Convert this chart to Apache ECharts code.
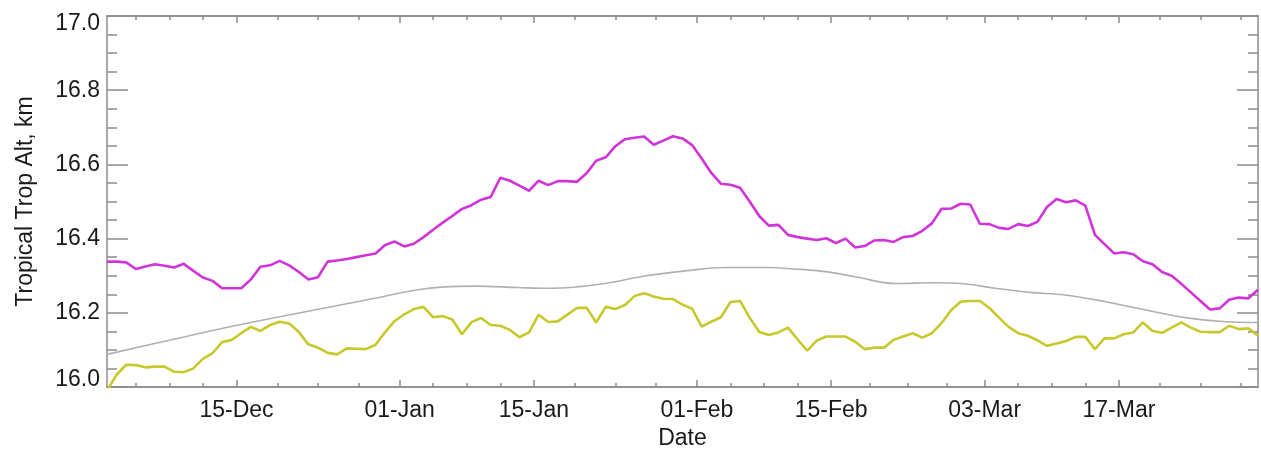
<!DOCTYPE html>
<html>
<head>
<meta charset="utf-8">
<script src="https://cdn.jsdelivr.net/npm/echarts@6/dist/echarts.min.js"></script>
<style>
  html, body { margin: 0; padding: 0; background: #ffffff; }
  #chart { width: 1261px; height: 450px; }
</style>
</head>
<body>
<div id="chart"></div>
<script>
// Day numbers count from 01-Dec 00:00; each daily value sits at noon of its day.
const firstDay = 0.5;
const lastDay = 120.5;

// Labelled date ticks (day numbers) and their text
const tickDays = [14, 31, 45, 62, 76, 92, 106];
const tickLabels = ['15-Dec', '01-Jan', '15-Jan', '01-Feb', '15-Feb', '03-Mar', '17-Mar'];
// Neighbouring tick dates just outside the range, used to place the minor ticks
const tickDaysBefore = 0;   // 01-Dec
const tickDaysAfter = 123;  // 03-Apr

// Daily tropical tropopause altitude, km
const magentaAlt = [
  16.338, 16.338, 16.336, 16.318, 16.325, 16.331, 16.327, 16.322, 16.332, 16.313,
  16.295, 16.286, 16.266, 16.266, 16.266, 16.290, 16.324, 16.328, 16.340, 16.328,
  16.310, 16.290, 16.296, 16.338, 16.341, 16.345, 16.350, 16.355, 16.360, 16.383,
  16.392, 16.379, 16.386, 16.404, 16.424, 16.443, 16.461, 16.480, 16.490, 16.505,
  16.512, 16.564, 16.556, 16.543, 16.529, 16.556, 16.544, 16.555, 16.555, 16.553,
  16.576, 16.610, 16.619, 16.649, 16.668, 16.672, 16.675, 16.653, 16.664, 16.676,
  16.670, 16.652, 16.616, 16.577, 16.548, 16.545, 16.537, 16.500, 16.461, 16.435,
  16.437, 16.410, 16.404, 16.400, 16.396, 16.401, 16.388, 16.400, 16.376, 16.380,
  16.395, 16.396, 16.391, 16.404, 16.407, 16.421, 16.441, 16.480, 16.481, 16.494,
  16.492, 16.440, 16.439, 16.429, 16.426, 16.439, 16.434, 16.445, 16.485, 16.507,
  16.498, 16.503, 16.489, 16.410, 16.385, 16.360, 16.363, 16.358, 16.339, 16.331,
  16.310, 16.300, 16.278, 16.255, 16.232, 16.209, 16.212, 16.235, 16.241, 16.239,
  16.262
];

const yellowAlt = [
  15.990, 16.033, 16.060, 16.059, 16.053, 16.055, 16.055, 16.041, 16.040, 16.050,
  16.076, 16.091, 16.121, 16.127, 16.145, 16.162, 16.151, 16.167, 16.176, 16.171,
  16.148, 16.115, 16.106, 16.092, 16.088, 16.104, 16.103, 16.102, 16.114, 16.148,
  16.178, 16.196, 16.210, 16.216, 16.188, 16.191, 16.182, 16.142, 16.175, 16.186,
  16.167, 16.165, 16.154, 16.134, 16.147, 16.195, 16.175, 16.177, 16.195, 16.213,
  16.214, 16.174, 16.216, 16.210, 16.221, 16.245, 16.253, 16.244, 16.238, 16.237,
  16.222, 16.211, 16.163, 16.176, 16.188, 16.229, 16.232, 16.187, 16.148, 16.140,
  16.147, 16.160, 16.128, 16.098, 16.125, 16.136, 16.136, 16.136, 16.122, 16.102,
  16.106, 16.106, 16.127, 16.136, 16.145, 16.133, 16.145, 16.172, 16.207, 16.230,
  16.232, 16.232, 16.213, 16.187, 16.162, 16.145, 16.138, 16.126, 16.111, 16.117,
  16.124, 16.135, 16.135, 16.102, 16.131, 16.131, 16.142, 16.147, 16.174, 16.151,
  16.146, 16.160, 16.174, 16.160, 16.149, 16.148, 16.148, 16.165, 16.156, 16.158,
  16.138
];

// Smooth reference curve: day numbers and altitude, km
const grayDays = [
  0.5, 7, 14.2, 24.8, 28.4, 32.6, 35.7, 38.9, 43.4, 46.5,
  48.8, 52.4, 56.6, 60.8, 64.9, 69.1, 72.8, 75.4, 78.5, 82.7,
  86.8, 89.6, 93.1, 96.7, 100.4, 104.6, 108.7, 112.9, 117.1, 120.5
];
const grayAlt = [
  16.088, 16.126, 16.167, 16.221, 16.239, 16.261, 16.270, 16.272, 16.268, 16.266,
  16.268, 16.279, 16.299, 16.313, 16.322, 16.322, 16.317, 16.311, 16.297, 16.279,
  16.281, 16.279, 16.266, 16.255, 16.248, 16.230, 16.208, 16.187, 16.176, 16.174
];

// Minor date ticks: each interval between tick dates split into four
const allTickDays = [tickDaysBefore].concat(tickDays, [tickDaysAfter]);
const minorTickDays = [];
for (let i = 0; i + 1 < allTickDays.length; i++) {
  const a = allTickDays[i], b = allTickDays[i + 1];
  for (let k = 1; k < 4; k++) {
    const d = a + (b - a) * k / 4;
    if (d > firstDay && d < lastDay) minorTickDays.push(d);
  }
}

const dailySeries = (vals) => vals.map((v, i) => [firstDay + i, v]);
const graySeries = grayDays.map((d, i) => [d, grayAlt[i]]);

const FONT = "'Liberation Sans', Arial, Helvetica, sans-serif";
const AXIS_COLOR = '#8c8c8c';
const TEXT_COLOR = '#1a1a1a';
const labelText = { color: TEXT_COLOR, fontFamily: FONT, fontSize: 23 };

function dateAxis(position, tickValues, tickLen, withLabels) {
  return {
    type: 'value',
    position: position,
    min: firstDay,
    max: lastDay,
    axisLine: { show: true, onZero: false, lineStyle: { color: AXIS_COLOR, width: 1.5 } },
    axisTick: {
      show: true, inside: true, length: tickLen, customValues: tickValues,
      lineStyle: { color: AXIS_COLOR, width: 1.5 }
    },
    axisLabel: withLabels ? Object.assign({
      show: true, customValues: tickDays, margin: 12,
      formatter: (v) => tickLabels[tickDays.indexOf(v)]
    }, labelText) : { show: false },
    name: withLabels ? 'Date' : '',
    nameLocation: 'middle',
    nameGap: 39,
    nameTextStyle: labelText,
    splitLine: { show: false },
    minorSplitLine: { show: false }
  };
}

// End labels of the altitude axis sit inside the frame, flush with its edges
function altLabel(v) {
  const txt = v.toFixed(1);
  if (Math.abs(v - 16.0) < 1e-6) return '{lo|' + txt + '}';
  if (Math.abs(v - 17.0) < 1e-6) return '{hi|' + txt + '}';
  return '{n|' + txt + '}';
}

function altAxis(position, withLabels) {
  return {
    type: 'value',
    position: position,
    min: 16.0,
    max: 17.0,
    interval: 0.2,
    axisLine: { show: true, onZero: false, lineStyle: { color: AXIS_COLOR, width: 1.5 } },
    axisTick: { show: true, inside: true, length: 21, lineStyle: { color: AXIS_COLOR, width: 1.5 } },
    minorTick: { show: true, splitNumber: 4, length: 10, lineStyle: { color: AXIS_COLOR, width: 1.5 } },
    axisLabel: withLabels ? {
      show: true, margin: 7,
      formatter: altLabel,
      rich: {
        n: Object.assign({}, labelText),
        lo: Object.assign({ padding: [0, 0, 15, 0] }, labelText),
        hi: Object.assign({ padding: [16, 0, 0, 0] }, labelText)
      }
    } : { show: false },
    name: withLabels ? 'Tropical Trop Alt, km' : '',
    nameLocation: 'middle',
    nameGap: 70,
    nameTextStyle: labelText,
    splitLine: { show: false },
    minorSplitLine: { show: false }
  };
}

const chart = echarts.init(document.getElementById('chart'), null, { renderer: 'canvas' });
chart.setOption({
  animation: false,
  backgroundColor: '#ffffff',
  grid: {
    left: 107, right: 3, top: 16, bottom: 63,
    containLabel: false, outerBoundsMode: 'none'
  },
  xAxis: [
    dateAxis('bottom', tickDays, 7, true),
    dateAxis('bottom', minorTickDays, 4, false),
    dateAxis('top', tickDays, 7, false),
    dateAxis('top', minorTickDays, 4, false)
  ],
  yAxis: [
    altAxis('left', true),
    altAxis('right', false)
  ],
  series: [
    {
      name: 'reference', type: 'line', xAxisIndex: 0, yAxisIndex: 0,
      data: graySeries, smooth: 0.4, showSymbol: false,
      lineStyle: { color: '#b0b0b0', width: 1.6 }, z: 2
    },
    {
      name: 'yellow', type: 'line', xAxisIndex: 0, yAxisIndex: 0,
      data: dailySeries(yellowAlt), showSymbol: false,
      lineStyle: { color: '#c8c82c', width: 2.6 }, z: 3
    },
    {
      name: 'magenta', type: 'line', xAxisIndex: 0, yAxisIndex: 0,
      data: dailySeries(magentaAlt), showSymbol: false,
      lineStyle: { color: '#d034d8', width: 2.6 }, z: 4
    }
  ]
});
</script>
</body>
</html>
